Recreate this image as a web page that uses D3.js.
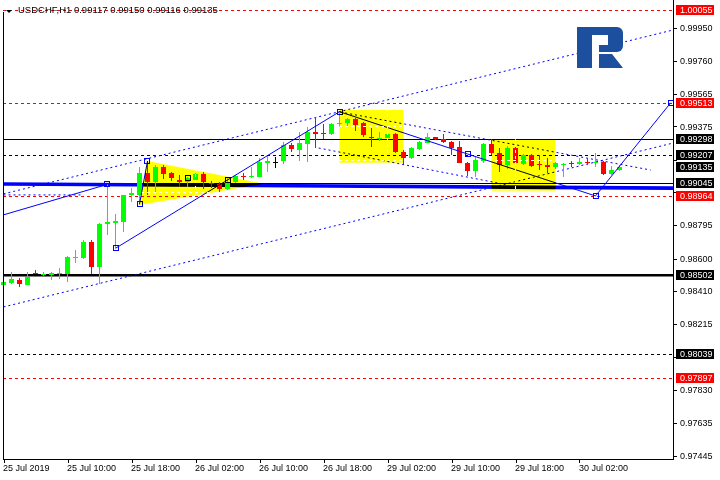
<!DOCTYPE html>
<html><head><meta charset="utf-8">
<script src="https://cdn.jsdelivr.net/npm/d3@7/dist/d3.min.js"></script>
<style>body{margin:0;background:#fff}svg{display:block}</style>
</head><body>
<script>
// ---------- DATA ----------
const symbol = "USDCHF", timeframe = "H1";
const open  = [0.98445,0.98458,0.98474,0.98445,0.98514,0.98505,0.98504,0.98508,0.98509,0.98601,0.98601,0.98699,0.98552,0.98801,0.98810,0.98816,0.98973,0.98973,0.99100,0.99047,0.99139,0.99100,0.99060,0.99050,0.99060,0.99096,0.99045,0.99035,0.99008,0.99047,0.99084,0.99077,0.99080,0.99162,0.99168,0.99174,0.99266,0.99236,0.99270,0.99340,0.99334,0.99328,0.99390,0.99396,0.99417,0.99393,0.99311,0.99303,0.99305,0.99330,0.99226,0.99188,0.99240,0.99280,0.99311,0.99299,0.99285,0.99252,0.99162,0.99115,0.99174,0.99271,0.99217,0.99149,0.99246,0.99153,0.99207,0.99155,0.99149,0.99135,0.99147,0.99158,0.99153,0.99164,0.99158,0.99168,0.99094,0.99117];
const high  = [0.98474,0.98520,0.98488,0.98520,0.98533,0.98520,0.98521,0.98542,0.98615,0.98650,0.98709,0.98709,0.98810,0.99035,0.98862,0.98975,0.99012,0.99139,0.99172,0.99149,0.99149,0.99107,0.99090,0.99080,0.99102,0.99110,0.99055,0.99047,0.99070,0.99090,0.99100,0.99139,0.99188,0.99203,0.99197,0.99282,0.99279,0.99340,0.99369,0.99432,0.99387,0.99393,0.99461,0.99424,0.99424,0.99403,0.99366,0.99340,0.99336,0.99336,0.99236,0.99256,0.99289,0.99334,0.99315,0.99330,0.99287,0.99289,0.99166,0.99197,0.99275,0.99299,0.99246,0.99260,0.99256,0.99213,0.99213,0.99207,0.99192,0.99166,0.99162,0.99174,0.99188,0.99188,0.99217,0.99174,0.99143,0.99150];
const low   = [0.98439,0.98449,0.98435,0.98443,0.98508,0.98500,0.98474,0.98480,0.98464,0.98572,0.98597,0.98508,0.98449,0.98738,0.98660,0.98757,0.98933,0.98914,0.98973,0.98992,0.99066,0.99055,0.99017,0.99017,0.99055,0.99008,0.99013,0.98992,0.99002,0.99043,0.99060,0.99074,0.99077,0.99109,0.99130,0.99155,0.99226,0.99172,0.99168,0.99250,0.99301,0.99324,0.99373,0.99373,0.99350,0.99315,0.99256,0.99291,0.99301,0.99217,0.99155,0.99182,0.99236,0.99279,0.99295,0.99280,0.99207,0.99158,0.99084,0.99077,0.99158,0.99207,0.99109,0.99125,0.99149,0.99149,0.99139,0.99119,0.99100,0.99123,0.99080,0.99139,0.99149,0.99149,0.99139,0.99090,0.99090,0.99116];
const close = [0.98464,0.98480,0.98449,0.98494,0.98510,0.98512,0.98514,0.98517,0.98607,0.98609,0.98699,0.98552,0.98803,0.98816,0.98820,0.98973,0.98986,0.99100,0.99047,0.99139,0.99096,0.99074,0.99050,0.99070,0.99096,0.99047,0.99035,0.99008,0.99047,0.99084,0.99077,0.99084,0.99165,0.99172,0.99168,0.99266,0.99240,0.99276,0.99344,0.99332,0.99328,0.99387,0.99393,0.99417,0.99383,0.99325,0.99305,0.99309,0.99330,0.99226,0.99188,0.99246,0.99285,0.99311,0.99301,0.99285,0.99246,0.99162,0.99115,0.99178,0.99271,0.99217,0.99149,0.99246,0.99158,0.99207,0.99143,0.99146,0.99139,0.99162,0.99153,0.99154,0.99168,0.99158,0.99164,0.99094,0.99119,0.99135];

const xTickIndex  = [0,8,16,24,32,40,48,56,64,72];
const xTickLabels = ["25 Jul 2019","25 Jul 10:00","25 Jul 18:00","26 Jul 02:00","26 Jul 10:00","26 Jul 18:00","29 Jul 02:00","29 Jul 10:00","29 Jul 18:00","30 Jul 02:00"];
const yTicks = [0.99950,0.99760,0.99565,0.99375,0.99180,0.98990,0.98795,0.98600,0.98410,0.98215,0.98025,0.97830,0.97635,0.97445];
const yTicksHidden = [0.99180,0.98990,0.98025]; // covered by price labels

const redLevels         = [1.00055,0.99513,0.98964,0.97897];
const blackDashedLevels = [0.99207,0.98039];
const blackSolidLevels  = [0.99298,0.99045];
const supportLevel      = 0.98502;
const blackLabels       = [0.99298,0.99207,0.99135,0.99045,0.98502,0.98039];

// trend objects: [barIndex, price]
const thickLine     = [[0,0.99037],[83.69,0.99013]];
const channelUpper  = [[0,0.98979],[83.69,0.99940]];
const channelLower  = [[0,0.98316],[83.69,0.99277]];
const wedgeUpper    = [[42.1,0.99459],[80.9,0.99119]];
const wedgeLower    = [[39.4,0.99248],[61.75,0.99043]];
const shortDash     = [[0,0.98973],[10,0.98973]];
const zigzagSegs = [
  [[0,0.98856],[13,0.99035]],
  [[14,0.98660],[42,0.99461]],
  [[17,0.98920],[18,0.99172]],
  [[42,0.99461],[58,0.99213]],
  [[58,0.99213],[74,0.98967]],
  [[74,0.98967],[83.4,0.99513]]
];
const squarePoints = [[13,0.99035],[14,0.98660],[17,0.98920],[18,0.99172],[23,0.99072],[28,0.99060],[42,0.99461],[58,0.99213],[74,0.98967],[83.4,0.99513]];
const triangle = [[18,0.99172],[17,0.98914],[32.5,0.99039]];
const rects = [[42,50,0.99471,0.99162],[61,69,0.99299,0.98998]];

// ---------- CHART ----------
const W = 720, H = 480;
const L = 3, R = 673, B = 459;
const x = d3.scaleLinear().domain([0,83.6875]).range([3.5,R]);
const y = d3.scaleLinear().domain([0.97445,0.99950]).range([455.5,28.3]);
const font = "'Liberation Sans', Arial, sans-serif";
const fmt = d3.format(".5f");
const cy = p => Math.round(y(p)) + 0.5;

const svg = d3.select("body").append("svg").attr("width",W).attr("height",H);
svg.append("rect").attr("width",W).attr("height",H).attr("fill","#fff");
const plot = svg.append("g");

function hline(p, color, dash, w){
  plot.append("line").attr("x1",L).attr("x2",R).attr("y1",cy(p)).attr("y2",cy(p))
    .attr("stroke",color).attr("stroke-width",w||1).attr("stroke-dasharray",dash||null)
    .attr("shape-rendering","crispEdges");
}
redLevels.forEach(p=>hline(p,"#ff0000","3,3"));
blackDashedLevels.forEach(p=>hline(p,"#000","3,3"));
blackSolidLevels.forEach(p=>hline(p,"#000"));
plot.append("line").attr("x1",L).attr("x2",R).attr("y1",y(supportLevel)).attr("y2",y(supportLevel))
  .attr("stroke","#000").attr("stroke-width",2.6);

const line = d3.line().x(d=>x(d[0])).y(d=>y(d[1]));
[channelUpper,channelLower,wedgeUpper,wedgeLower,shortDash].forEach(s=>
  plot.append("path").attr("d",line(s)).attr("fill","none").attr("stroke","#0000ff").attr("stroke-width",1).attr("stroke-dasharray","2,3"));
plot.append("path").attr("d",line(thickLine)).attr("fill","none").attr("stroke","#0000ff").attr("stroke-width",3.6);

// candles
const idx = d3.range(open.length);
const cg = plot.append("g").attr("shape-rendering","crispEdges");
idx.forEach(i=>{
  const col = close[i]>open[i] ? "#00ff00" : (close[i]<open[i] ? "#ff0000" : "#000000");
  const cx = x(i);
  cg.append("line").attr("x1",cx).attr("x2",cx).attr("y1",y(high[i])).attr("y2",y(low[i])).attr("stroke",col);
  const t = Math.round(y(Math.max(open[i],close[i]))), b = Math.round(y(Math.min(open[i],close[i])));
  cg.append("rect").attr("x",cx-2.5).attr("y",t).attr("width",5).attr("height",Math.max(1,b-t)).attr("fill",col);
});

// zigzag
zigzagSegs.forEach(s=>plot.append("path").attr("d",line(s)).attr("fill","none").attr("stroke","#0000ff").attr("stroke-width",1));
squarePoints.forEach(d=>plot.append("rect").attr("x",Math.round(x(d[0]))-2.5).attr("y",Math.round(y(d[1]))-2.5)
  .attr("width",5).attr("height",5).attr("fill","none").attr("stroke","#0000ff"));

// yellow shapes (multiply so blue lines turn black inside)
const yel = plot.append("g").style("mix-blend-mode","multiply");
yel.append("path").attr("d",line(triangle)+"Z").attr("fill","#ffff00");
rects.forEach(r=>yel.append("rect").attr("x",x(r[0])).attr("y",y(r[2])).attr("width",x(r[1])-x(r[0])).attr("height",y(r[3])-y(r[2])).attr("fill","#ffff00"));

// white grid (visible only on yellow)
const clipY = svg.append("clipPath").attr("id","yc");
clipY.append("path").attr("d",line(triangle)+"Z");
rects.forEach(r=>clipY.append("rect").attr("x",x(r[0])).attr("y",y(r[2])).attr("width",x(r[1])-x(r[0])).attr("height",y(r[3])-y(r[2])));
const grid = plot.append("g").attr("clip-path","url(#yc)").attr("shape-rendering","crispEdges");
yTicks.forEach(p=>grid.append("line").attr("x1",L).attr("x2",R).attr("y1",cy(p)).attr("y2",cy(p)).attr("stroke","#fff").attr("stroke-dasharray","3,3"));
xTickIndex.forEach(i=>grid.append("line").attr("x1",x(i)).attr("x2",x(i)).attr("y1",0).attr("y2",B).attr("stroke","#fff").attr("stroke-dasharray","3,3"));

// frame
const fr = svg.append("g").attr("stroke","#000").attr("shape-rendering","crispEdges");
fr.append("line").attr("x1",L+0.5).attr("x2",L+0.5).attr("y1",12).attr("y2",B+0.5);
fr.append("line").attr("x1",L).attr("x2",R+0.5).attr("y1",B+0.5).attr("y2",B+0.5);
fr.append("line").attr("x1",R+0.5).attr("x2",R+0.5).attr("y1",0).attr("y2",B+0.5);

// y axis ticks & labels
yTicks.forEach(p=>{
  fr.append("line").attr("x1",R).attr("x2",R+4).attr("y1",cy(p)).attr("y2",cy(p));
  if (yTicksHidden.indexOf(p) < 0)
    svg.append("text").attr("x",680).attr("y",y(p)).attr("dy","0.35em").attr("font-family",font).attr("font-size",9).attr("fill","#000").text(fmt(p));
});
function box(p,bg){
  const yc = Math.round(y(p));
  svg.append("rect").attr("x",676).attr("y",yc-5).attr("width",38).attr("height",10).attr("fill",bg);
  svg.append("text").attr("x",680).attr("y",yc).attr("dy","0.35em").attr("font-family",font).attr("font-size",9).attr("fill","#fff").text(fmt(p));
}
blackLabels.forEach(p=>box(p,"#000"));
redLevels.forEach(p=>box(p,"#ff0000"));

// x axis
xTickIndex.forEach((i,k)=>{
  fr.append("line").attr("x1",Math.round(x(i))+0.5).attr("x2",Math.round(x(i))+0.5).attr("y1",B).attr("y2",B+4);
  svg.append("text").attr("x",x(i)-0.5).attr("y",471).attr("font-family",font).attr("font-size",9).attr("fill","#000").text(xTickLabels[k]);
});

// title
const last = open.length-1;
svg.append("path").attr("d","M6,10 L12,10 L9,13 Z").attr("fill","#000");
svg.append("text").attr("x",18).attr("y",13).attr("font-family",font).attr("font-size",9.5).attr("fill","#000")
  .text(`${symbol},${timeframe}  ${fmt(open[last])} ${fmt(high[last])} ${fmt(low[last])} ${fmt(close[last])}`);

// logo
const lg = svg.append("g").attr("fill","#1c4f9e");
lg.append("rect").attr("x",577).attr("y",27).attr("width",46).attr("height",25).attr("rx",6);
lg.append("rect").attr("x",577).attr("y",27).attr("width",15).attr("height",41);
lg.append("path").attr("d","M599,54 L612,54 L623,68 L599,68 Z");
svg.append("rect").attr("x",592).attr("y",35).attr("width",16).attr("height",10).attr("fill","#fff");
svg.append("rect").attr("x",592).attr("y",45).attr("width",7).attr("height",23).attr("fill","#fff");
</script>
</body></html>
